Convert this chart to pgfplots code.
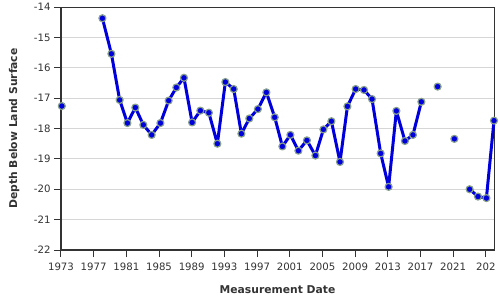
\documentclass[border=0pt]{standalone}
\usepackage{pgfplots}
\pgfplotsset{compat=1.18}
\usepackage{fontspec}
\setmainfont{DejaVu Sans}
\definecolor{lineblue}{RGB}{0,0,220}
\definecolor{markedge}{RGB}{135,160,140}
\definecolor{gridgray}{RGB}{214,214,214}
\definecolor{axisdark}{RGB}{51,51,51}
\definecolor{textdark}{RGB}{51,51,51}
\begin{document}
\begin{tikzpicture}
\begin{axis}[
  at={(0,0)}, anchor=south west,
  scale only axis, width=433bp, height=243bp,
  xmin=1973, xmax=2026, ymin=-22, ymax=-14,
  xtick={1973,1977,1981,1985,1989,1993,1997,2001,2005,2009,2013,2017,2021,2025},
  xticklabels={1973,1977,1981,1985,1989,1993,1997,2001,2005,2009,2013,2017,2021,202},
  ytick={-22,-21,-20,-19,-18,-17,-16,-15,-14},
  yticklabels={-22,-21,-20,-19,-18,-17,-16,-15,-14},
  tick label style={font=\fontsize{10.2}{11}\selectfont, text=textdark},
  x tick label style={yshift=-2bp},
  tick align=outside, major tick length=7bp,
  xtick pos=left, ytick pos=left,
  tick style={axisdark, line width=1bp},
  ymajorgrids, major grid style={gridgray, line width=1bp},
  axis line style={axisdark, line width=1bp},
  unbounded coords=jump,
  clip=false,
  xlabel={Measurement Date}, ylabel={Depth Below Land Surface},
  label style={font=\fontsize{10.8}{12}\selectfont\bfseries, text=textdark},
  x label style={at={(axis description cs:0.5,-0.165)}, anchor=center},
  y label style={at={(axis description cs:-0.108,0.5)}, anchor=center},
]
\addplot[lineblue, line width=3bp, line join=round, mark=*, mark size=3.5bp,
  mark options={fill=lineblue, draw=markedge, line width=1.2bp}] coordinates {
(1973.1,-17.26)
(1975.5,nan)
(1978.07,-14.37)
(1979.17,-15.54)
(1980.18,-17.06)
(1981.13,-17.82)
(1982.1,-17.31)
(1983.08,-17.88)
(1984.1,-18.21)
(1985.17,-17.82)
(1986.18,-17.08)
(1987.12,-16.65)
(1988.05,-16.33)
(1989.05,-17.80)
(1990.06,-17.41)
(1991.1,-17.48)
(1992.14,-18.50)
(1993.12,-16.47)
(1994.14,-16.70)
(1995.08,-18.17)
(1996.05,-17.67)
(1997.1,-17.36)
(1998.14,-16.81)
(1999.16,-17.63)
(2000.1,-18.59)
(2001.08,-18.21)
(2002.06,-18.73)
(2003.1,-18.39)
(2004.14,-18.89)
(2005.12,-18.03)
(2006.1,-17.76)
(2007.15,-19.10)
(2008.06,-17.27)
(2009.07,-16.70)
(2010.09,-16.73)
(2011.07,-17.03)
(2012.13,-18.82)
(2013.1,-19.92)
(2014.05,-17.42)
(2015.1,-18.41)
(2016.08,-18.21)
(2017.11,-17.12)
(2018.1,nan)
(2019.1,-16.62)
(2020.1,nan)
(2021.15,-18.34)
(2022.1,nan)
(2023.02,-20.00)
(2024.04,-20.24)
(2025.07,-20.29)
(2026.0,-17.74)
};
\draw[axisdark, line width=2.2bp] (rel axis cs:0,1) -- (rel axis cs:0,0) -- (rel axis cs:1,0);
\end{axis}
\path[use as bounding box] (-61bp,-53bp) rectangle (439bp,247bp);
\end{tikzpicture}
\end{document}
